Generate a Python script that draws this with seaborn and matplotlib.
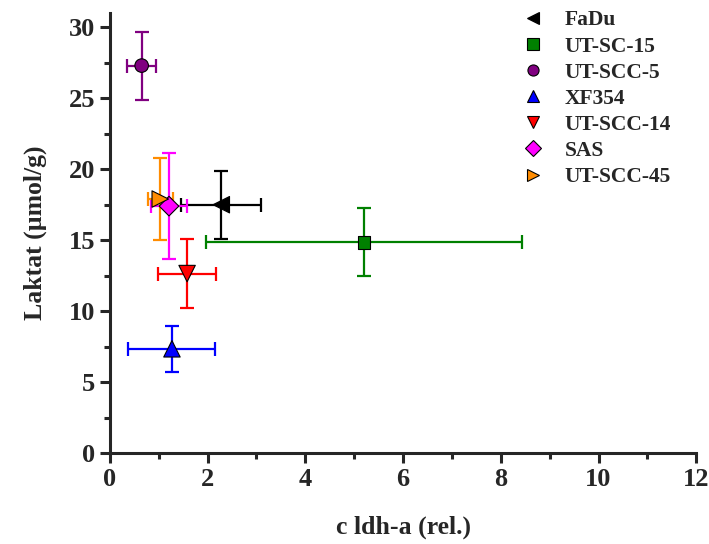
import matplotlib
matplotlib.use("Agg")
import matplotlib.pyplot as plt
import seaborn as sns
import pandas as pd
from matplotlib.ticker import MultipleLocator
from matplotlib.lines import Line2D

cells = ["FaDu", "UT-SC-15", "UT-SCC-5", "XF354", "UT-SCC-14", "SAS", "UT-SCC-45"]
x_vals = [2.28, 5.20, 0.65, 1.27, 1.58, 1.21, 1.03]
x_err = [0.82, 3.23, 0.29, 0.89, 0.60, 0.36, 0.26]
y_vals = [17.5, 14.85, 27.3, 7.35, 12.65, 17.4, 17.9]
y_err = [2.4, 2.4, 2.4, 1.6, 2.45, 3.75, 2.9]
colors = ["black", "green", "purple", "blue", "red", "magenta", "darkorange"]
markers = ["<", "s", "o", "^", "v", "D", ">"]
msizes = [140, 80, 95, 140, 140, 100, 140]

df = pd.DataFrame({"cell": cells, "x": x_vals, "y": y_vals, "xe": x_err, "ye": y_err})

sns.set_style("ticks")
plt.rcParams["font.family"] = ["Liberation Serif", "DejaVu Serif"]
plt.rcParams["font.weight"] = "bold"

fig = plt.figure(figsize=(7.09, 5.44), dpi=100)
ax = fig.add_axes([0.155, 0.167, 0.827, 0.809])

for i, c in enumerate(cells):
    ax.errorbar(x_vals[i], y_vals[i], xerr=x_err[i], yerr=y_err[i], fmt="none",
                ecolor=colors[i], elinewidth=1.6, capsize=5, capthick=1.6, zorder=2)

palette = dict(zip(cells, colors))
mk = dict(zip(cells, markers))
sz = dict(zip(cells, msizes))
sns.scatterplot(data=df, x="x", y="y", hue="cell", style="cell", size="cell",
                palette=palette, markers=mk, sizes=sz,
                edgecolor="black", linewidth=0.8, ax=ax, zorder=3, legend=False)

handles = [Line2D([], [], linestyle="none", marker=markers[i], markersize=8,
                  markerfacecolor=colors[i], markeredgecolor="black", markeredgewidth=0.8)
           for i in range(len(cells))]
leg = ax.legend(handles, cells, loc="upper right", bbox_to_anchor=(0.99, 1.05), frameon=False,
                prop={"family": "Liberation Serif", "weight": "bold", "size": 15.5},
                handletextpad=0.65, labelspacing=0.28, handlelength=1.6)

ax.set_xlim(0, 12)
ax.set_ylim(0, 31)
ax.xaxis.set_major_locator(MultipleLocator(2))
ax.xaxis.set_minor_locator(MultipleLocator(1))
ax.yaxis.set_major_locator(MultipleLocator(5))
ax.yaxis.set_minor_locator(MultipleLocator(2.5))
ax.set_yticks([0, 5, 10, 15, 20, 25, 30])

for s in ["top", "right"]:
    ax.spines[s].set_visible(False)
for s in ["left", "bottom"]:
    ax.spines[s].set_linewidth(2.2)
ax.tick_params(which="major", direction="out", length=7, width=2.2, labelsize=19)
ax.tick_params(which="minor", direction="out", length=4, width=2.2)
for lab in ax.get_xticklabels() + ax.get_yticklabels():
    lab.set_fontweight("bold")

ax.set_xlabel("c ldh-a (rel.)", fontsize=18.5, fontweight="bold", labelpad=18)
ax.set_ylabel("Laktat (µmol/g)", fontsize=18.5, fontweight="bold", labelpad=16)

fig.savefig("out.png", dpi=100)
